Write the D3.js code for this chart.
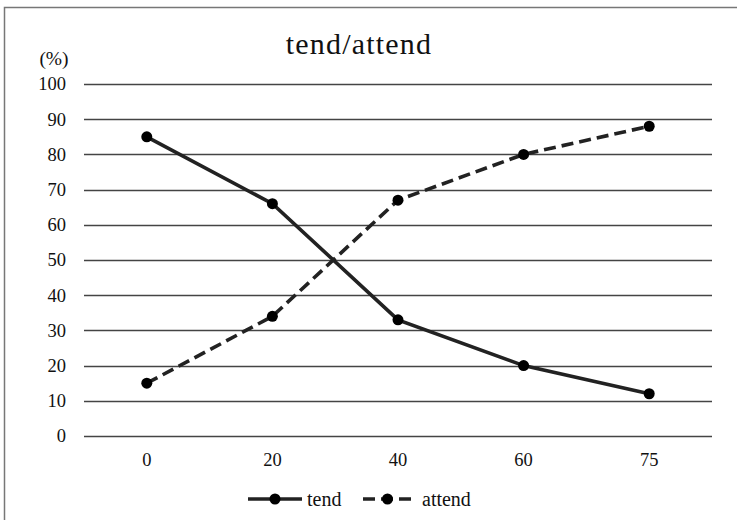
<html>
<head>
  <script src="https://d3js.org/d3.v7.min.js"></script>
  <style>
    body { margin: 0; background: #fff; }
    text { font-family: "Liberation Serif", "Times New Roman", serif; fill: #111; }
  </style>
</head>
<body>
  <svg id="chart" width="737" height="520"></svg>
  <script>
    const categories = ["0", "20", "40", "60", "75"];
    const tend = [85, 66, 33, 20, 12];
    const attend = [15, 34, 67, 80, 88];
    const yTicks = [0, 10, 20, 30, 40, 50, 60, 70, 80, 90, 100];

    const svg = d3.select("svg#chart");
    const margins = { top: 84, right: 25, bottom: 84, left: 84 };
    const serif = '"Liberation Serif", "Times New Roman", serif';

    // outer frame (only top and left edges fall inside the window)
    svg.append("rect")
      .attr("x", 4.5).attr("y", 7.5)
      .attr("width", 760).attr("height", 540)
      .attr("fill", "none").attr("stroke", "#777").attr("stroke-width", 1.5);

    const xScale = d3.scaleBand().domain(categories)
      .range([margins.left, 712]);
    const yScale = d3.scaleLinear().domain([0, 100])
      .range([436, 84]);

    // gridlines
    svg.append("g")
      .selectAll("line")
      .data(yTicks)
      .join("line")
      .attr("x1", margins.left).attr("x2", 712)
      .attr("y1", d => Math.round(yScale(d)) + 0.5)
      .attr("y2", d => Math.round(yScale(d)) + 0.5)
      .attr("stroke", "#444").attr("stroke-width", 1.3);

    let leftAxis = d3.axisLeft(yScale).tickValues(yTicks).tickSize(0).tickPadding(18);
    svg.append("g")
      .attr("transform", `translate(${margins.left}, 0)`)
      .call(leftAxis)
      .attr("font-family", serif)
      .attr("font-size", 18.5)
      .call(g => g.select(".domain").remove())
      .selectAll("text")
      .attr("fill", "#111");

    let bottomAxis = d3.axisBottom(xScale).tickSize(0).tickPadding(17);
    svg.append("g")
      .attr("transform", `translate(0, 436)`)
      .call(bottomAxis)
      .attr("font-family", serif)
      .attr("font-size", 18.5)
      .call(g => g.select(".domain").remove())
      .selectAll("text")
      .attr("fill", "#111");

    svg.append("text")
      .attr("x", 54).attr("y", 58).attr("dy", "0.35em")
      .attr("text-anchor", "middle")
      .style("font-size", "19.5px")
      .text("(%)");

    svg.append("text")
      .attr("x", 359).attr("y", 54)
      .attr("text-anchor", "middle")
      .style("font-size", "30px")
      .style("letter-spacing", "1.2px")
      .text("tend/attend");

    const xPos = (d, i) => xScale(categories[i]) + xScale.bandwidth() / 2;
    const line = d3.line().x(xPos).y(d => yScale(d));

    const series = [
      { name: "tend", values: tend, dash: null },
      { name: "attend", values: attend, dash: "12,6" }
    ];

    series.forEach(s => {
      svg.append("path")
        .datum(s.values)
        .attr("d", line)
        .attr("fill", "none")
        .attr("stroke", "#222")
        .attr("stroke-width", 3.6)
        .attr("stroke-dasharray", s.dash);
      svg.append("g")
        .selectAll("circle")
        .data(s.values)
        .join("circle")
        .attr("cx", xPos)
        .attr("cy", d => yScale(d))
        .attr("r", 5.5)
        .attr("fill", "#000");
    });

    // legend
    const legendItems = [
      { name: "tend", x1: 248, x2: 302, dash: null, tx: 307 },
      { name: "attend", x1: 363, x2: 412, dash: "12,6", tx: 422 }
    ];
    const legendY = 499;
    legendItems.forEach(l => {
      svg.append("line")
        .attr("x1", l.x1).attr("x2", l.x2)
        .attr("y1", legendY).attr("y2", legendY)
        .attr("stroke", "#222").attr("stroke-width", 3.6)
        .attr("stroke-dasharray", l.dash);
      svg.append("circle")
        .attr("cx", (l.x1 + l.x2) / 2).attr("cy", legendY)
        .attr("r", 5.5).attr("fill", "#000");
      svg.append("text")
        .attr("x", l.tx).attr("y", legendY).attr("dy", "0.35em")
        .style("font-size", "20px")
        .text(l.name);
    });
  </script>
</body>
</html>
